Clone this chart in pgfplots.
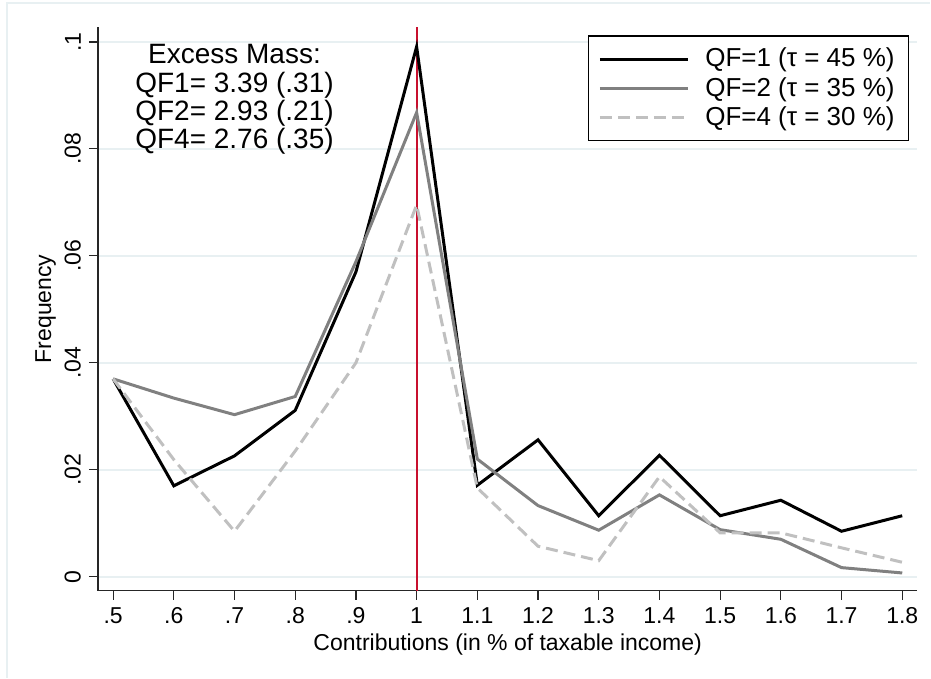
\documentclass[border=0pt]{standalone}
\usepackage{pgfplots}
\pgfplotsset{compat=1.18}
\usepackage{fontspec}
\setmainfont{Liberation Sans}

\definecolor{gridc}{RGB}{232,240,242}
\definecolor{redline}{RGB}{200,16,46}
\definecolor{qftwo}{RGB}{128,128,128}
\definecolor{qffour}{RGB}{192,192,192}

\begin{document}
\fontsize{11.5}{13.8}\selectfont
\begin{tikzpicture}
  \begin{axis}[name=ax,
      scale only axis,
      width=410pt, height=282pt,
      xmin=0.475, xmax=1.825,
      ymin=-0.0026, ymax=0.1028,
      axis lines=left,
      axis line style={-, black!85, line width=0.6pt},
      tick style={black!85, line width=0.6pt},
      tick align=outside,
      major tick length=4.5pt,
      xtick={0.5,0.6,0.7,0.8,0.9,1,1.1,1.2,1.3,1.4,1.5,1.6,1.7,1.8},
      xticklabels={.5,.6,.7,.8,.9,1,1.1,1.2,1.3,1.4,1.5,1.6,1.7,1.8},
      ytick={0,0.02,0.04,0.06,0.08,0.1},
      yticklabels={0,.02,.04,.06,.08,.1},
      /pgf/number format/assume math mode=true,
      yticklabel style={rotate=90, anchor=south},
      ymajorgrids,
      grid style={gridc, line width=0.8pt},
      xlabel={Contributions (in \% of taxable income)},
      ylabel={Frequency},
      xlabel style={yshift=3pt},
      ylabel style={yshift=-3.5pt},
      legend style={at={(rel axis cs:0.99,0.985)}, anchor=north east,
        draw=black, line width=0.6pt, inner xsep=5pt, inner ysep=4pt,
        row sep=-0.5pt, font=\fontsize{13}{15}\selectfont,
        /tikz/every odd column/.append style={column sep=6pt}},
      legend cell align=left,
      legend image code/.code={\draw[#1] (0pt,0pt) -- (44pt,0pt);},
      clip=false,
    ]
    \addplot[redline, line width=0.9pt, forget plot] coordinates {(1,-0.0026) (1,0.1028)};

    \addplot[black, line width=1.5pt] coordinates {
      (0.5,0.0370) (0.6,0.0170) (0.7,0.0226) (0.8,0.0311) (0.9,0.0570)
      (1.0,0.0991) (1.1,0.0171) (1.2,0.0256) (1.3,0.0114) (1.4,0.0227)
      (1.5,0.0114) (1.6,0.0143) (1.7,0.0085) (1.8,0.0114)
    };
    \addplot[qftwo, line width=1.5pt] coordinates {
      (0.5,0.0370) (0.6,0.0334) (0.7,0.0303) (0.8,0.0337) (0.9,0.0589)
      (1.0,0.0868) (1.1,0.0220) (1.2,0.0133) (1.3,0.0087) (1.4,0.0153)
      (1.5,0.0088) (1.6,0.0070) (1.7,0.0017) (1.8,0.0007)
    };
    \addplot[qffour, line width=1.5pt, dash pattern=on 6pt off 3pt] coordinates {
      (0.5,0.0370) (0.6,0.0219) (0.7,0.0085) (0.8,0.0235) (0.9,0.0400)
      (1.0,0.0695) (1.1,0.0166) (1.2,0.0057) (1.3,0.0030) (1.4,0.0187)
      (1.5,0.0082) (1.6,0.0082) (1.7,0.0054) (1.8,0.0027)
    };
    \legend{QF=1 (τ = 45 \%), QF=2 (τ = 35 \%), QF=4 (τ = 30 \%)}

    \node[align=center, anchor=north, inner sep=0pt,
      font=\fontsize{14}{14.2}\selectfont] at (axis cs:0.70,0.0996)
      {Excess Mass:\\QF1= 3.39 (.31)\\QF2= 2.93 (.21)\\QF4= 2.76 (.35)};
  \end{axis}
  \pgfresetboundingbox
  \path ([shift={(-49pt,-43.5pt)}]ax.south west) rectangle ([shift={(6.5pt,13.5pt)}]ax.north east);
  \draw[gridc, line width=0.6pt] ([shift={(-45.5pt,-43.5pt)}]ax.south west) -- ([shift={(-45.5pt,12pt)}]ax.north west) -- ([shift={(6.5pt,12pt)}]ax.north east);
\end{tikzpicture}
\end{document}
